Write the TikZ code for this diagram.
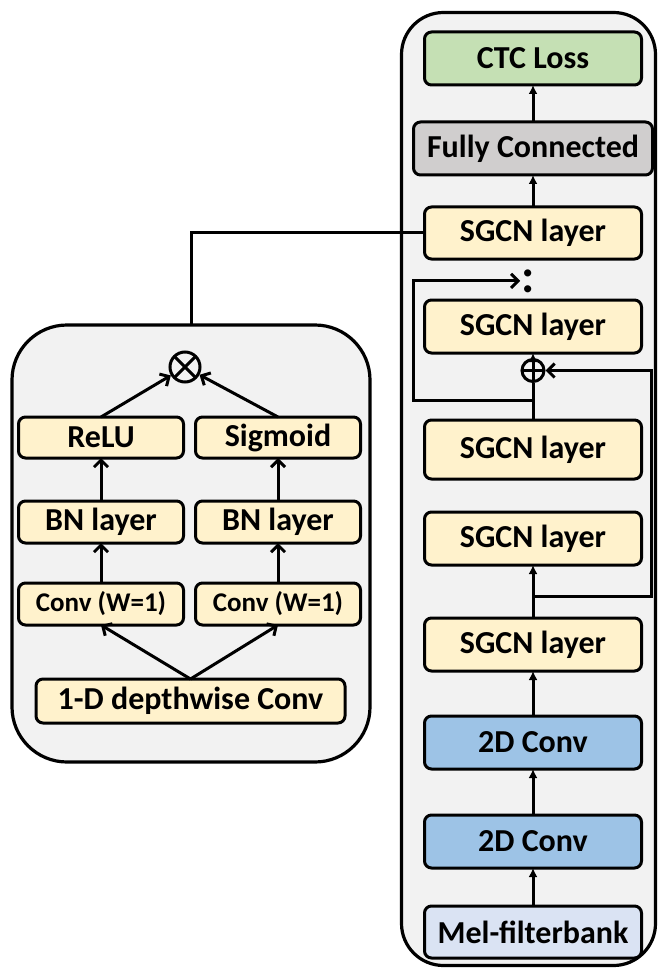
\documentclass[tikz,border=0pt]{standalone}
\usepackage{fontspec}
\setmainfont{Carlito}
\usetikzlibrary{positioning,arrows.meta}
\definecolor{panelgray}{HTML}{F2F2F2}
\definecolor{ctcgreen}{HTML}{C5E0B4}
\definecolor{fcgray}{HTML}{D0CECE}
\definecolor{layeryellow}{HTML}{FFF2CC}
\definecolor{convblue}{HTML}{9DC3E6}
\definecolor{melblue}{HTML}{DAE3F3}

\begin{document}
\begin{tikzpicture}[x=1pt, y=-1pt,
    font=\bfseries\fontsize{32}{38}\selectfont,
    panel/.style={draw, line width=3.2pt, fill=panelgray, inner sep=0pt, outer sep=0pt},
    block/.style={draw, line width=3pt, rounded corners=7pt, fill=layeryellow,
      minimum width=217pt, minimum height=53pt, inner sep=0pt, outer sep=0pt},
    small/.style={block, minimum width=165pt, minimum height=42pt},
    flow/.style={line width=3pt, -{Latex[length=9pt,width=9pt]}},
    gate/.style={line width=3pt, -{Straight Barb[length=7pt,width=14pt]}},
    link/.style={line width=3pt},
    mul/.style={draw, circle, line width=3pt, minimum size=30pt, inner sep=0pt,
      path picture={\draw[line width=3pt]
        (path picture bounding box.north west) -- (path picture bounding box.south east)
        (path picture bounding box.north east) -- (path picture bounding box.south west);}},
    add/.style={draw, circle, line width=3pt, minimum size=22pt, inner sep=0pt,
      path picture={\draw[line width=3pt]
        (path picture bounding box.north) -- (path picture bounding box.south)
        (path picture bounding box.west) -- (path picture bounding box.east);}},
  ]
  \useasboundingbox (0,0) rectangle (657,968);

  \node[panel, rounded corners=42pt, minimum width=254pt, minimum height=953pt] (net) at (528.5,489) {};
  \node[panel, rounded corners=55pt, minimum width=358pt, minimum height=437pt] (gate) at (191,543.5) {};

  \node[block, fill=ctcgreen] (ctc) at (533,58.5) {CTC Loss};
  \node[block, fill=fcgray, minimum width=239pt, below=37pt of ctc] (fc) {Fully Connected};
  \node[block, minimum height=52pt, below=32pt of fc] (sg1) {SGCN layer};
  \node[block, below=41pt of sg1] (sg2) {SGCN layer};
  \node[add, below=5pt of sg2] (plus) {};
  \node[block, minimum height=59pt, below=37pt of plus] (sg3) {SGCN layer};
  \node[block, below=33pt of sg3] (sg4) {SGCN layer};
  \node[block, below=53pt of sg4] (sg5) {SGCN layer};
  \node[block, fill=convblue, below=45pt of sg5] (conv1) {2D Conv};
  \node[block, fill=convblue, below=46pt of conv1] (conv2) {2D Conv};
  \node[block, fill=melblue, minimum height=52pt, below=38pt of conv2] (mel) {Mel-filterbank};
  \node[inner sep=1pt, anchor=base, font=\bfseries\fontsize{48}{48}\selectfont] (dots) at (528,292) {:};

  \coordinate[above=20pt of sg3] (skipa);
  \coordinate[below=31pt of sg4] (skipb);

  \draw[flow] (fc) -- (ctc);
  \draw[flow] (sg1) -- (fc);
  \draw[flow] (plus) -- (sg2);
  \draw[link] (sg3) -- (plus);
  \draw[gate] (skipa) -- ++(-120,0) |- (dots.west);
  \draw[flow] (sg5) -- (sg4);
  \draw[gate] (skipb) -- ++(118,0) |- (plus.east);
  \draw[flow] (conv1) -- (sg5);
  \draw[flow] (conv2) -- (conv1);
  \draw[flow] (mel) -- (conv2);

  \node[small, minimum height=41pt] (relu) at (101,437.5) {ReLU};
  \node[small, minimum height=41pt, right=12pt of relu] (sig) {Sigmoid};
  \node[small, below=43pt of relu] (bnl) {BN layer};
  \node[small, below=43pt of sig] (bnr) {BN layer};
  \node[small, font=\bfseries\fontsize{27}{32}\selectfont, below=40pt of bnl] (convl) {Conv (W=1)};
  \node[small, font=\bfseries\fontsize{27}{32}\selectfont, below=40pt of bnr] (convr) {Conv (W=1)};
  \node[small, minimum width=309pt, minimum height=44pt] (dw) at (190.5,701) {1-D depthwise Conv};
  \node[mul] (prod) at (185,367) {};

  \draw[gate] (convl) -- (bnl);
  \draw[gate] (bnl) -- (relu);
  \draw[gate] (convr) -- (bnr);
  \draw[gate] (bnr) -- (sig);
  \draw[gate] (relu.north) -- (prod);
  \draw[gate] (sig.north) -- (prod);
  \draw[gate] (dw.north) -- (convl.south);
  \draw[gate] (dw.north) -- (convr.south);

  \draw[link] (sg1.west) -| (gate.north);
\end{tikzpicture}
\end{document}
